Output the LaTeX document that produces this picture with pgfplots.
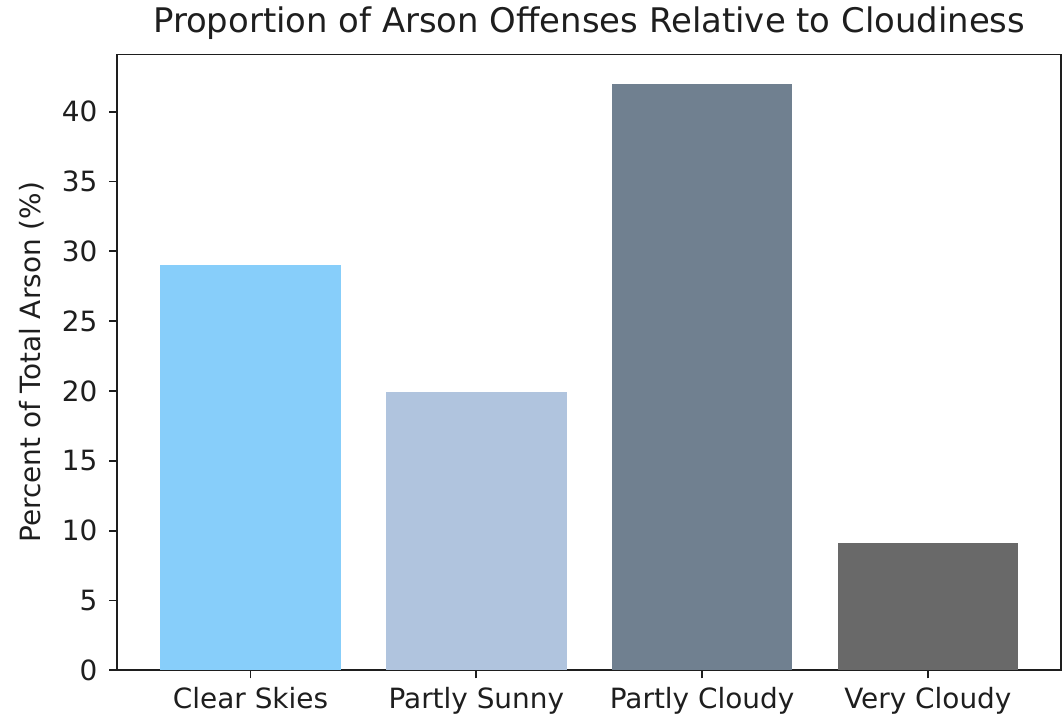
\documentclass[border=0pt]{standalone}
\usepackage{pgfplots}
\pgfplotsset{compat=1.18}
\usepackage{fontspec}
\setmainfont{DejaVu Sans}
\definecolor{c1}{RGB}{135,206,250}
\definecolor{c2}{RGB}{176,196,222}
\definecolor{c3}{RGB}{112,128,144}
\definecolor{c4}{RGB}{105,105,105}
\definecolor{txt}{RGB}{30,30,30}
\begin{document}
\begin{tikzpicture}
\begin{axis}[
  scale only axis,
  width=473.5pt, height=309pt,
  xmin=-0.59, xmax=3.59,
  ymin=0, ymax=44.1,
  xtick={0,1,2,3},
  xticklabels={Clear Skies,Partly Sunny,Partly Cloudy,Very Cloudy},
  ytick={0,5,10,15,20,25,30,35,40},
  xtick pos=bottom, ytick pos=left,
  tick align=outside,
  major tick length=4pt,
  tick style={txt, line width=0.9pt},
  axis line style={txt, line width=0.9pt},
  tick label style={font=\fontsize{14}{16}\selectfont, text=txt},
  yticklabel style={xshift=-2.5pt},
  xticklabel style={yshift=-1pt},
  /pgf/number format/assume math mode=true,
  ylabel={Percent of Total Arson (\%)},
  ylabel style={font=\fontsize{14}{16}\selectfont, text=txt, inner ysep=9.5pt},
  ylabel shift=-4pt,
  title={Proportion of Arson Offenses Relative to Cloudiness},
  title style={font=\fontsize{17}{20}\selectfont, text=txt, yshift=-2pt},
  ybar, bar width=0.8, bar shift=0pt,
]
\addplot[fill=c1, draw=none] coordinates {(0,29.0)};
\addplot[fill=c2, draw=none] coordinates {(1,19.95)};
\addplot[fill=c3, draw=none] coordinates {(2,42.0)};
\addplot[fill=c4, draw=none] coordinates {(3,9.13)};
\end{axis}
\end{tikzpicture}
\end{document}
